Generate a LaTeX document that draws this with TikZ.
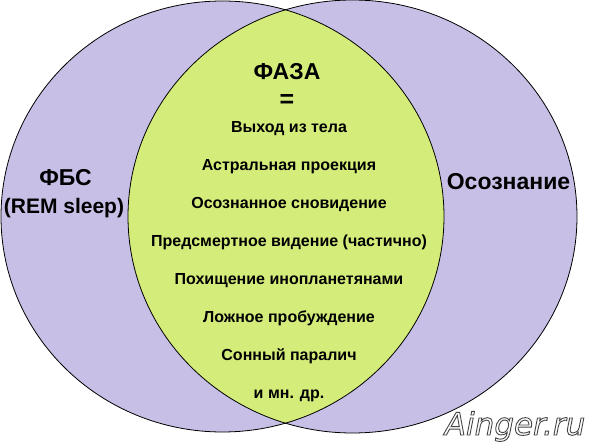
\documentclass[tikz,border=0pt]{standalone}
\usepackage{fontspec}
\setmainfont{Liberation Sans}
\newfontfamily\markfont{DejaVu Sans}
\usetikzlibrary{positioning}
\definecolor{lavender}{RGB}{200,191,231}
\definecolor{phase}{RGB}{212,237,122}
\newcommand{\outlined}[1]{%
    \special{pdf:literal direct 2 Tr 0.9 w 0.27 0.27 0.27 RG}#1%
    \special{pdf:literal direct 0 Tr}}
\tikzset{
    area/.style = {
        fill = lavender,
        },
    overlap/.style = {
        fill = phase,
        },
    rim/.style = {
        draw = black,
        line width = 0.8pt,
        },
    big label/.style = {
        anchor = base,
        font = \bfseries\fontsize{23}{27}\selectfont,
        },
    sub label/.style = {
        anchor = base,
        font = \bfseries\fontsize{21}{25}\selectfont,
        },
    phase item/.style = {
        anchor = base,
        font = \bfseries\fontsize{16}{19}\selectfont,
        },
    mark text/.style = {
        anchor = base,
        text = white,
        font = \markfont\itshape\fontsize{31}{35}\selectfont,
        }
}
\begin{document}
\begin{tikzpicture}[x=1pt,y=-1pt]
            \useasboundingbox (0,0) rectangle (590,446);

            % two circles
            \path[area] (222.5,216.5) ellipse [x radius=221.5, y radius=215.5];
            \path[area] (352.5,216.5) ellipse [x radius=224.5, y radius=216.5];
            \begin{scope}
                \clip (222.5,216.5) ellipse [x radius=221.5, y radius=215.5];
                \path[overlap] (352.5,216.5) ellipse [x radius=224.5, y radius=216.5];
            \end{scope}
            \path[rim] (222.5,216.5) ellipse [x radius=221.5, y radius=215.5];
            \path[rim] (352.5,216.5) ellipse [x radius=224.5, y radius=216.5];

            % left and right
            \node[big label] (fbs) at (65.5,186) {ФБС};
            \node[sub label] (rem) at (64,214) {(REM sleep)};
            \node[big label] (aware) at (508.5,190) {Осознание};

            % middle
            \node[big label] (phase) at (287,80) {ФАЗА};
            \node[big label, font=\bfseries\fontsize{25}{29}\selectfont] (eq) at (287,108) {=};
            \foreach \t [count=\i] in {Выход из тела, Астральная проекция,
                Осознанное сновидение, Предсмертное видение (частично),
                Похищение инопланетянами, Ложное пробуждение,
                Сонный паралич, и мн. др.}
                \node[phase item] (item\i) at (289,132.3+38*\i-38) {\t};

            % watermark
            \node[mark text] (mark) at (515,435) {\outlined{Ainger.ru}};
\end{tikzpicture}
\end{document}
